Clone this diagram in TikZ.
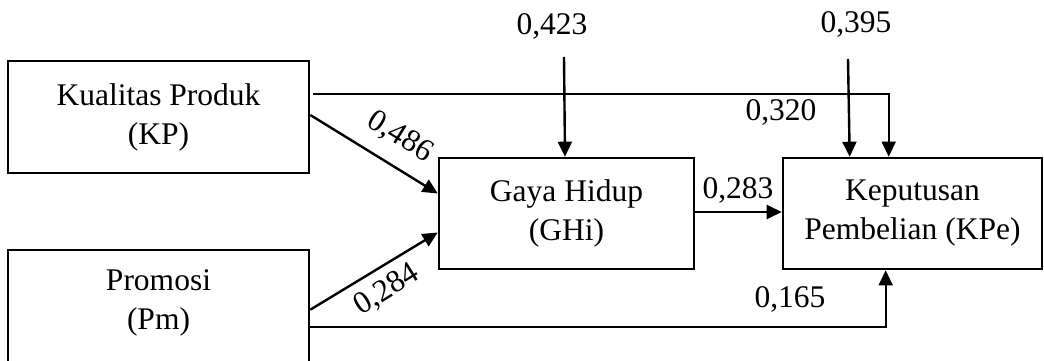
\documentclass[tikz,border=0pt]{standalone}
\usepackage{fontspec}
\setmainfont{Liberation Serif}
\usetikzlibrary{arrows.meta}
\begin{document}
\begin{tikzpicture}[x=1pt,y=-1pt,
  every node/.style={font=\fontsize{31.5}{39}\selectfont, inner sep=0pt},
  box/.style={draw, line width=2.6pt, align=center},
  arr/.style={line width=2.4pt, -{Triangle[length=15pt,width=14pt]}},
  thin arr/.style={line width=1.6pt, -{Triangle[length=15pt,width=14pt]}},
  coef/.style={anchor=base}]
\useasboundingbox (0,0) rectangle (1044,361);
% boxes
\node[box, minimum width=301pt, minimum height=112pt] (KP) at (158.5,117) {Kualitas Produk\\(KP)};
\node[box, minimum width=301pt, minimum height=122pt] (Pm) at (158.5,311) {};
\node[align=center] (PmT) at (158.5,303) {Promosi\\(Pm)};
\node[box, minimum width=255pt, minimum height=111pt] (GHi) at (566.5,213.5) {Gaya Hidup\\(GHi)};
\node[box, minimum width=259pt, minimum height=111pt] (KPe) at (912.5,213.5) {Keputusan\\Pembelian (KPe)};
% error terms
\node[coef] (e1) at (552,35) {0,423};
\node[coef] (e2) at (856,33) {0,395};
\coordinate (e1s) at (564,57);
\coordinate (e2s) at (848,59);
\draw[arr] (e1s) -- ([xshift=-1.5pt]GHi.north);
\draw[arr] (e2s) -- ([xshift=68pt]KPe.north west);
% paths
\draw[thin arr] ([xshift=3pt,yshift=-34pt]KP.north east) -| ([xshift=107pt]KPe.north west);
\draw[thin arr] ([yshift=-78pt]Pm.north east) -| ([xshift=104pt]KPe.south west);
\draw[arr] ([yshift=2pt]KP.east) -- ([yshift=20pt]GHi.west);
\draw[arr] ([yshift=-61pt]Pm.north east) -- ([yshift=-19pt]GHi.west);
\draw[arr] ([yshift=1.5pt]GHi.east) -- ([yshift=1.5pt]KPe.west);
% coefficients
\node[coef] (c320) at (781,120) {0,320};
\node[coef] (c283) at (738,198) {0,283};
\node[coef] (c165) at (790,307) {0,165};
\node[rotate=-32] (c486) at (400,137) {0,486};
\node[rotate=32] (c284) at (387,290) {0,284};
\end{tikzpicture}
\end{document}
